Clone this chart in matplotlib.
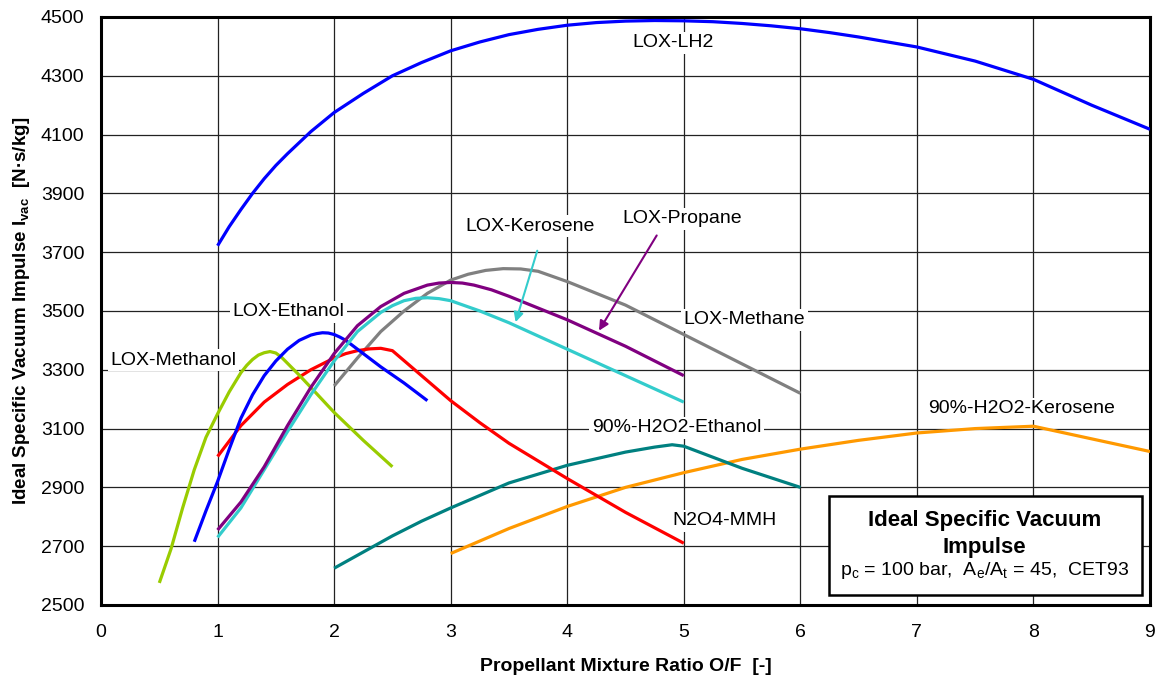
import numpy as np
import matplotlib
matplotlib.use("Agg")
import matplotlib.pyplot as plt
from matplotlib.patches import Rectangle

plt.rcParams.update({'font.family': ['Liberation Sans', 'DejaVu Sans'],
                     'font.size': 14,
                     'mathtext.fontset': 'custom',
                     'mathtext.rm': 'Liberation Sans',
                     'mathtext.it': 'Liberation Sans:italic',
                     'mathtext.bf': 'Liberation Sans:bold'})

# --- data (O/F, Ivac in N*s/kg) ---
lh2_of = [1.0, 1.1, 1.2, 1.3, 1.4, 1.5, 1.6, 1.8, 2.0, 2.25, 2.5, 2.75, 3.0, 3.25, 3.5, 3.75, 4.0, 4.25,
          4.5, 4.75, 5.0, 5.25, 5.5, 5.75, 6.0, 6.25, 6.5, 7.0, 7.5, 8.0, 8.5, 9.0]
lh2_isp = [3722, 3787, 3845, 3900, 3950, 3995, 4035, 4110, 4175, 4240, 4300, 4345, 4385, 4415, 4440, 4458,
           4472, 4481, 4486, 4488, 4487, 4484, 4478, 4470, 4460, 4447, 4432, 4398, 4350, 4288, 4200, 4118]

methanol_of = [0.5, 0.6, 0.7, 0.8, 0.9, 1.0, 1.1, 1.2, 1.25, 1.3, 1.35, 1.4, 1.45, 1.5, 1.55, 1.6, 1.7, 1.8,
               2.0, 2.25, 2.5]
methanol_isp = [2575, 2690, 2830, 2960, 3070, 3150, 3225, 3290, 3315, 3335, 3350, 3358, 3362, 3357, 3342,
                3322, 3282, 3240, 3155, 3060, 2970]

ethanol_of = [0.8, 0.9, 1.0, 1.1, 1.2, 1.3, 1.4, 1.5, 1.6, 1.7, 1.8, 1.85, 1.9, 1.95, 2.0, 2.05, 2.1, 2.2,
              2.4, 2.6, 2.8]
ethanol_isp = [2715, 2820, 2920, 3030, 3135, 3215, 3280, 3330, 3370, 3400, 3418, 3423, 3426, 3425, 3420,
               3411, 3400, 3370, 3310, 3255, 3195]

mmh_of = [1.0, 1.2, 1.4, 1.6, 1.8, 2.0, 2.1, 2.2, 2.3, 2.4, 2.5, 2.75, 3.0, 3.25, 3.5, 3.75, 4.0, 4.5, 5.0]
mmh_isp = [3005, 3110, 3190, 3250, 3300, 3340, 3355, 3365, 3371, 3373, 3365, 3280, 3195, 3120, 3050, 2990,
           2930, 2815, 2710]

kero_of = [1.0, 1.2, 1.4, 1.6, 1.8, 2.0, 2.2, 2.4, 2.5, 2.6, 2.7, 2.8, 2.9, 3.0, 3.25, 3.5, 4.0, 4.5, 5.0]
kero_isp = [2730, 2830, 2960, 3090, 3215, 3330, 3430, 3495, 3518, 3535, 3543, 3545, 3542, 3535, 3500, 3460,
            3370, 3280, 3190]

propane_of = [1.0, 1.2, 1.4, 1.6, 1.8, 2.0, 2.2, 2.4, 2.6, 2.8, 2.9, 3.0, 3.1, 3.2, 3.35, 3.5, 4.0, 4.5, 5.0]
propane_isp = [2755, 2850, 2970, 3110, 3240, 3355, 3450, 3515, 3560, 3588, 3595, 3597, 3595, 3588, 3572,
               3550, 3470, 3380, 3280]

methane_of = [2.0, 2.2, 2.4, 2.6, 2.8, 3.0, 3.15, 3.3, 3.45, 3.6, 3.75, 4.0, 4.5, 5.0, 5.5, 6.0]
methane_isp = [3245, 3340, 3430, 3500, 3560, 3605, 3625, 3638, 3644, 3643, 3635, 3600, 3520, 3420, 3320, 3220]

h2o2_eth_of = [2.0, 2.25, 2.5, 2.75, 3.0, 3.5, 4.0, 4.5, 4.75, 4.9, 5.0, 5.5, 6.0]
h2o2_eth_isp = [2625, 2680, 2735, 2785, 2830, 2915, 2975, 3020, 3037, 3045, 3040, 2965, 2900]

h2o2_kero_of = [3.0, 3.5, 4.0, 4.5, 5.0, 5.5, 6.0, 6.5, 7.0, 7.5, 8.0, 8.5, 9.0]
h2o2_kero_isp = [2675, 2760, 2835, 2900, 2950, 2995, 3030, 3060, 3085, 3100, 3108, 3065, 3022]

curves = [
    (lh2_of, lh2_isp, '#0000FF'),
    (methane_of, methane_isp, '#808080'),
    (h2o2_kero_of, h2o2_kero_isp, '#FF9900'),
    (h2o2_eth_of, h2o2_eth_isp, '#008080'),
    (mmh_of, mmh_isp, '#FF0000'),
    (methanol_of, methanol_isp, '#99CC00'),
    (ethanol_of, ethanol_isp, '#0000FF'),
    (kero_of, kero_isp, '#33CCCC'),
    (propane_of, propane_isp, '#800080'),
]

fig = plt.figure(figsize=(11.56, 6.77), dpi=100)
ax = fig.add_axes([0.0874, 0.1064, 0.9074, 0.8685])

for of, isp, c in curves:
    ax.plot(of, isp, color=c, lw=2.3, solid_capstyle='butt', solid_joinstyle='round', zorder=3)

ax.set_xlim(0, 9)
ax.set_ylim(2500, 4500)
ax.set_xticks(np.arange(0, 10, 1))
ax.set_yticks(np.arange(2500, 4501, 200))
ax.grid(True, color='#222222', lw=0.9, zorder=1)
ax.set_axisbelow(True)
ax.tick_params(length=0, labelsize=14)
ax.tick_params(axis='x', pad=14)
ax.tick_params(axis='y', pad=12)
for s in ax.spines.values():
    s.set_linewidth(2.2)

ax.set_xlabel('Propellant Mixture Ratio O/F  [-]', fontsize=14, fontweight='bold', labelpad=12)
ax.set_ylabel(r'Ideal Specific Vacuum Impulse I$_{\mathbf{vac}}$  [N·s/kg]', fontsize=13.5,
              fontweight='bold', labelpad=6)

box = dict(facecolor='white', edgecolor='none', pad=2)
labels = [
    ('LOX-LH2', 4.91, 4412),
    ('LOX-Kerosene', 3.68, 3789),
    ('LOX-Propane', 4.99, 3813),
    ('LOX-Methane', 5.52, 3470),
    ('LOX-Ethanol', 1.61, 3497),
    ('LOX-Methanol', 0.62, 3333),
    ('90%-H2O2-Ethanol', 4.94, 3102),
    ('90%-H2O2-Kerosene', 7.9, 3167),
    ('N2O4-MMH', 5.35, 2786),
]
for txt, x, y in labels:
    ax.text(x, y, txt, ha='center', va='center', fontsize=14, bbox=box, zorder=4)

ax.annotate('', xy=(3.55, 3453), xytext=(3.75, 3714),
            arrowprops=dict(arrowstyle='-|>', color='#33CCCC', lw=1.5, mutation_scale=14), zorder=5)
ax.annotate('', xy=(4.26, 3425), xytext=(4.78, 3765),
            arrowprops=dict(arrowstyle='-|>', color='#800080', lw=1.5, mutation_scale=14), zorder=5)

# info box
ax.add_patch(Rectangle((6.25, 2534), 2.68, 337, facecolor='white', edgecolor='black',
                       lw=1.8, zorder=6))
ax.text(7.58, 2789, 'Ideal Specific Vacuum', ha='center', va='center', fontsize=16,
        fontweight='bold', zorder=7)
ax.text(7.58, 2697, 'Impulse', ha='center', va='center', fontsize=16,
        fontweight='bold', zorder=7)
ax.text(7.58, 2617, r'p$_\mathrm{c}$ = 100 bar,  A$_\mathrm{e}$/A$_\mathrm{t}$ = 45,  CET93',
        ha='center', va='center', fontsize=14, zorder=7)

fig.savefig('out.png', dpi=100)
